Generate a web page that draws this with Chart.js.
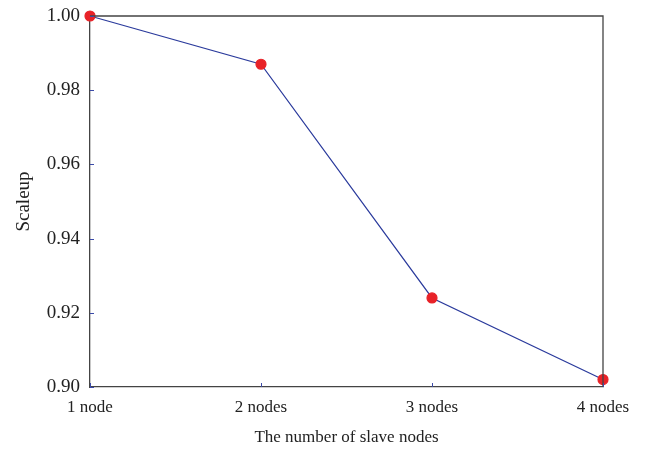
<!DOCTYPE html>
<html>
<head>
<meta charset="utf-8">
<script src="https://cdn.jsdelivr.net/npm/chart.js@4/dist/chart.umd.min.js"></script>
<style>
  html, body { margin: 0; padding: 0; background: #fff; }
  #wrap { width: 650px; height: 449px; }
</style>
</head>
<body>
<div id="wrap"><canvas id="chart" width="650" height="449"></canvas></div>
<script>
const categories = ["1 node", "2 nodes", "3 nodes", "4 nodes"];
const scaleup = [1.000, 0.987, 0.924, 0.902];
const yTicks = [0.90, 0.92, 0.94, 0.96, 0.98, 1.00];

const serif = "'Liberation Serif', 'DejaVu Serif', serif";
const axisColor = "#444";
const tickColor = "#3b4aa8";

// frame on top/right and small inward tick marks
const frameTicks = {
  id: "frameTicks",
  afterDraw(chart) {
    const ctx = chart.ctx;
    const a = chart.chartArea;
    const xs = chart.scales.x, ys = chart.scales.y;
    ctx.save();
    ctx.strokeStyle = axisColor;
    ctx.lineWidth = 1.3;
    ctx.beginPath();
    ctx.moveTo(a.left, a.top);
    ctx.lineTo(a.right, a.top);
    ctx.lineTo(a.right, a.bottom);
    ctx.stroke();

    ctx.strokeStyle = tickColor;
    ctx.lineWidth = 1;
    ctx.beginPath();
    yTicks.forEach(v => {
      const y = Math.round(ys.getPixelForValue(v)) + 0.5;
      ctx.moveTo(a.left, y);
      ctx.lineTo(a.left + 4, y);
    });
    categories.forEach((c, i) => {
      const x = Math.round(xs.getPixelForValue(i)) + 0.5;
      ctx.moveTo(x, a.bottom);
      ctx.lineTo(x, a.bottom - 4);
    });
    ctx.stroke();
    ctx.restore();
  }
};

new Chart(document.getElementById("chart"), {
  type: "line",
  data: {
    labels: categories,
    datasets: [{
      label: "Scaleup",
      data: scaleup,
      borderColor: "#2a3a9c",
      borderWidth: 1.2,
      pointBackgroundColor: "#e82228",
      pointBorderColor: "#e82228",
      pointRadius: 5,
      tension: 0,
      clip: false
    }]
  },
  options: {
    responsive: false,
    animation: false,
    layout: { padding: { left: 0, top: 16, right: 47, bottom: 0 } },
    plugins: { legend: { display: false }, tooltip: { enabled: false } },
    scales: {
      x: {
        type: "category",
        offset: false,
        grid: { display: false, drawTicks: false },
        border: { display: true, color: axisColor, width: 1.3 },
        ticks: { color: "#222", padding: 10, maxRotation: 0, font: { family: serif, size: 17 } },
        title: {
          display: true,
          text: "The number of slave nodes",
          color: "#222",
          font: { family: serif, size: 17 },
          padding: { top: 0, bottom: 1 }
        },
        afterFit(scale) { scale.height = 62; }
      },
      y: {
        min: 0.9,
        max: 1.0,
        grid: { display: false, drawTicks: false },
        border: { display: true, color: axisColor, width: 1.3 },
        ticks: {
          stepSize: 0.02,
          color: "#222",
          padding: 10,
          font: { family: serif, size: 19 },
          callback: v => Number(v).toFixed(2)
        },
        title: {
          display: true,
          text: "Scaleup",
          color: "#222",
          font: { family: serif, size: 19 },
          padding: { top: 13, bottom: 0 }
        },
        afterFit(scale) {
          scale.width = 90;
          scale.paddingTop = 0;
          scale.paddingBottom = 0;
        }
      }
    }
  },
  plugins: [frameTicks]
});
</script>
</body>
</html>
